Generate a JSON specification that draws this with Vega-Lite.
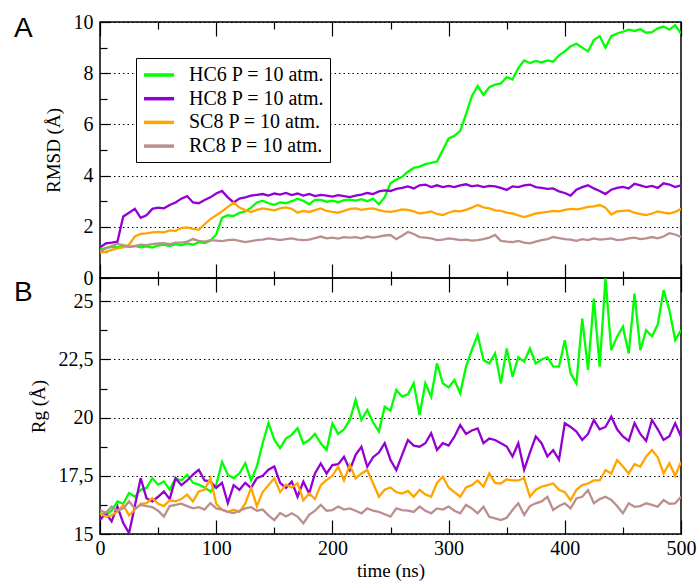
{
"$schema": "https://vega.github.io/schema/vega-lite/v6.json",
"autosize": "none",
"padding": {"left": 100, "top": 22, "right": 598, "bottom": 559},
"background": "white",
"config": {
 "view": {"stroke": "black", "strokeWidth": 1.5},
 "style": {"guide-label": {"font": "Liberation Serif", "fontSize": 20, "fill": "black"}, "guide-title": {"font": "Liberation Serif", "fontSize": 19, "fontWeight": "normal", "fill": "black"}},
 "axis": {"domain": false, "tickColor": "black", "tickWidth": 1.2, "labelFont": "Liberation Serif", "labelFontSize": 20, "labelColor": "black", "titleFont": "Liberation Serif", "titleFontSize": 19, "titleFontWeight": "normal", "titleColor": "black", "labelFlush": false, "labelOverlap": false}
},
"datasets": {
"rmsd": [
{"t":0,"HC6":1.10,"HC8":1.20,"SC8":1.00,"RC8":1.03},
{"t":5,"HC6":1.18,"HC8":1.35,"SC8":1.02,"RC8":1.15},
{"t":10,"HC6":1.22,"HC8":1.38,"SC8":1.10,"RC8":1.25},
{"t":15,"HC6":1.20,"HC8":1.42,"SC8":1.16,"RC8":1.33},
{"t":20,"HC6":1.26,"HC8":2.40,"SC8":1.20,"RC8":1.28},
{"t":25,"HC6":1.22,"HC8":2.55,"SC8":1.30,"RC8":1.22},
{"t":30,"HC6":1.25,"HC8":2.70,"SC8":1.62,"RC8":1.25},
{"t":35,"HC6":1.20,"HC8":2.35,"SC8":1.72,"RC8":1.30},
{"t":40,"HC6":1.24,"HC8":2.45,"SC8":1.74,"RC8":1.28},
{"t":45,"HC6":1.19,"HC8":2.70,"SC8":1.78,"RC8":1.32},
{"t":50,"HC6":1.27,"HC8":2.75,"SC8":1.80,"RC8":1.35},
{"t":55,"HC6":1.30,"HC8":2.72,"SC8":1.78,"RC8":1.36},
{"t":60,"HC6":1.25,"HC8":2.85,"SC8":1.86,"RC8":1.32},
{"t":65,"HC6":1.32,"HC8":2.95,"SC8":1.84,"RC8":1.38},
{"t":70,"HC6":1.28,"HC8":3.10,"SC8":1.95,"RC8":1.38},
{"t":75,"HC6":1.35,"HC8":3.20,"SC8":1.98,"RC8":1.42},
{"t":80,"HC6":1.30,"HC8":2.95,"SC8":1.92,"RC8":1.52},
{"t":85,"HC6":1.40,"HC8":2.92,"SC8":1.88,"RC8":1.45},
{"t":90,"HC6":1.36,"HC8":3.05,"SC8":2.10,"RC8":1.42},
{"t":95,"HC6":1.45,"HC8":3.15,"SC8":2.30,"RC8":1.48},
{"t":100,"HC6":1.70,"HC8":3.30,"SC8":2.45,"RC8":1.46},
{"t":105,"HC6":2.35,"HC8":3.40,"SC8":2.60,"RC8":1.44},
{"t":110,"HC6":2.45,"HC8":3.15,"SC8":2.78,"RC8":1.48},
{"t":115,"HC6":2.42,"HC8":2.95,"SC8":2.94,"RC8":1.50},
{"t":120,"HC6":2.55,"HC8":3.10,"SC8":2.75,"RC8":1.45},
{"t":125,"HC6":2.60,"HC8":3.15,"SC8":2.65,"RC8":1.40},
{"t":130,"HC6":2.75,"HC8":3.22,"SC8":2.58,"RC8":1.44},
{"t":135,"HC6":2.95,"HC8":3.25,"SC8":2.66,"RC8":1.48},
{"t":140,"HC6":3.02,"HC8":3.28,"SC8":2.72,"RC8":1.50},
{"t":145,"HC6":2.92,"HC8":3.22,"SC8":2.68,"RC8":1.55},
{"t":150,"HC6":2.86,"HC8":3.30,"SC8":2.64,"RC8":1.52},
{"t":155,"HC6":2.95,"HC8":3.26,"SC8":2.72,"RC8":1.48},
{"t":160,"HC6":2.92,"HC8":3.32,"SC8":2.76,"RC8":1.52},
{"t":165,"HC6":3.00,"HC8":3.24,"SC8":2.70,"RC8":1.55},
{"t":170,"HC6":3.10,"HC8":3.30,"SC8":2.55,"RC8":1.50},
{"t":175,"HC6":3.02,"HC8":3.22,"SC8":2.62,"RC8":1.48},
{"t":180,"HC6":2.88,"HC8":3.28,"SC8":2.58,"RC8":1.50},
{"t":185,"HC6":3.05,"HC8":3.20,"SC8":2.65,"RC8":1.56},
{"t":190,"HC6":3.05,"HC8":3.25,"SC8":2.72,"RC8":1.62},
{"t":195,"HC6":2.98,"HC8":3.22,"SC8":2.62,"RC8":1.55},
{"t":200,"HC6":3.02,"HC8":3.18,"SC8":2.58,"RC8":1.58},
{"t":205,"HC6":2.96,"HC8":3.24,"SC8":2.55,"RC8":1.54},
{"t":210,"HC6":3.04,"HC8":3.20,"SC8":2.62,"RC8":1.60},
{"t":215,"HC6":3.06,"HC8":3.16,"SC8":2.70,"RC8":1.58},
{"t":220,"HC6":3.02,"HC8":3.22,"SC8":2.72,"RC8":1.60},
{"t":225,"HC6":3.08,"HC8":3.26,"SC8":2.66,"RC8":1.55},
{"t":230,"HC6":3.00,"HC8":3.32,"SC8":2.70,"RC8":1.62},
{"t":235,"HC6":3.10,"HC8":3.28,"SC8":2.72,"RC8":1.58},
{"t":240,"HC6":2.88,"HC8":3.38,"SC8":2.65,"RC8":1.62},
{"t":245,"HC6":3.15,"HC8":3.42,"SC8":2.60,"RC8":1.66},
{"t":250,"HC6":3.70,"HC8":3.40,"SC8":2.58,"RC8":1.68},
{"t":255,"HC6":3.85,"HC8":3.48,"SC8":2.62,"RC8":1.52},
{"t":260,"HC6":3.95,"HC8":3.52,"SC8":2.68,"RC8":1.65},
{"t":265,"HC6":4.15,"HC8":3.58,"SC8":2.66,"RC8":1.80},
{"t":270,"HC6":4.30,"HC8":3.50,"SC8":2.60,"RC8":1.72},
{"t":275,"HC6":4.35,"HC8":3.62,"SC8":2.52,"RC8":1.60},
{"t":280,"HC6":4.45,"HC8":3.65,"SC8":2.55,"RC8":1.58},
{"t":285,"HC6":4.50,"HC8":3.55,"SC8":2.60,"RC8":1.55},
{"t":290,"HC6":4.55,"HC8":3.62,"SC8":2.50,"RC8":1.48},
{"t":295,"HC6":5.00,"HC8":3.55,"SC8":2.46,"RC8":1.50},
{"t":300,"HC6":5.45,"HC8":3.60,"SC8":2.55,"RC8":1.55},
{"t":305,"HC6":5.55,"HC8":3.55,"SC8":2.62,"RC8":1.52},
{"t":310,"HC6":5.75,"HC8":3.62,"SC8":2.60,"RC8":1.48},
{"t":315,"HC6":6.40,"HC8":3.66,"SC8":2.66,"RC8":1.50},
{"t":320,"HC6":7.10,"HC8":3.58,"SC8":2.75,"RC8":1.46},
{"t":325,"HC6":7.50,"HC8":3.62,"SC8":2.85,"RC8":1.48},
{"t":330,"HC6":7.15,"HC8":3.55,"SC8":2.76,"RC8":1.52},
{"t":335,"HC6":7.45,"HC8":3.60,"SC8":2.72,"RC8":1.58},
{"t":340,"HC6":7.55,"HC8":3.58,"SC8":2.64,"RC8":1.68},
{"t":345,"HC6":7.60,"HC8":3.52,"SC8":2.62,"RC8":1.45},
{"t":350,"HC6":7.85,"HC8":3.44,"SC8":2.55,"RC8":1.42},
{"t":355,"HC6":7.75,"HC8":3.58,"SC8":2.52,"RC8":1.40},
{"t":360,"HC6":8.20,"HC8":3.55,"SC8":2.45,"RC8":1.45},
{"t":365,"HC6":8.50,"HC8":3.62,"SC8":2.38,"RC8":1.38},
{"t":370,"HC6":8.40,"HC8":3.65,"SC8":2.45,"RC8":1.35},
{"t":375,"HC6":8.48,"HC8":3.55,"SC8":2.52,"RC8":1.42},
{"t":380,"HC6":8.42,"HC8":3.52,"SC8":2.55,"RC8":1.48},
{"t":385,"HC6":8.50,"HC8":3.48,"SC8":2.58,"RC8":1.52},
{"t":390,"HC6":8.45,"HC8":3.50,"SC8":2.62,"RC8":1.60},
{"t":395,"HC6":8.70,"HC8":3.38,"SC8":2.60,"RC8":1.56},
{"t":400,"HC6":8.85,"HC8":3.32,"SC8":2.66,"RC8":1.52},
{"t":405,"HC6":9.05,"HC8":3.22,"SC8":2.70,"RC8":1.50},
{"t":410,"HC6":9.15,"HC8":3.45,"SC8":2.68,"RC8":1.45},
{"t":415,"HC6":9.00,"HC8":3.55,"SC8":2.72,"RC8":1.52},
{"t":420,"HC6":8.85,"HC8":3.62,"SC8":2.78,"RC8":1.48},
{"t":425,"HC6":9.30,"HC8":3.50,"SC8":2.80,"RC8":1.55},
{"t":430,"HC6":9.45,"HC8":3.40,"SC8":2.85,"RC8":1.50},
{"t":435,"HC6":9.00,"HC8":3.28,"SC8":2.75,"RC8":1.52},
{"t":440,"HC6":9.45,"HC8":3.45,"SC8":2.48,"RC8":1.55},
{"t":445,"HC6":9.55,"HC8":3.52,"SC8":2.60,"RC8":1.48},
{"t":450,"HC6":9.62,"HC8":3.56,"SC8":2.62,"RC8":1.50},
{"t":455,"HC6":9.70,"HC8":3.50,"SC8":2.64,"RC8":1.55},
{"t":460,"HC6":9.65,"HC8":3.68,"SC8":2.55,"RC8":1.58},
{"t":465,"HC6":9.72,"HC8":3.62,"SC8":2.50,"RC8":1.52},
{"t":470,"HC6":9.58,"HC8":3.55,"SC8":2.46,"RC8":1.55},
{"t":475,"HC6":9.60,"HC8":3.60,"SC8":2.52,"RC8":1.60},
{"t":480,"HC6":9.75,"HC8":3.52,"SC8":2.60,"RC8":1.55},
{"t":485,"HC6":9.82,"HC8":3.70,"SC8":2.55,"RC8":1.62},
{"t":490,"HC6":9.70,"HC8":3.65,"SC8":2.52,"RC8":1.75},
{"t":495,"HC6":9.88,"HC8":3.55,"SC8":2.58,"RC8":1.70},
{"t":500,"HC6":9.55,"HC8":3.62,"SC8":2.70,"RC8":1.60}
],
"rg": [
{"t":0,"HC6":15.89,"HC8":15.60,"SC8":15.89,"RC8":16.03},
{"t":5,"HC6":15.82,"HC8":15.90,"SC8":15.75,"RC8":15.90},
{"t":10,"HC6":16.00,"HC8":15.54,"SC8":15.80,"RC8":16.18},
{"t":15,"HC6":16.40,"HC8":16.18,"SC8":15.96,"RC8":16.00},
{"t":20,"HC6":16.30,"HC8":15.47,"SC8":16.25,"RC8":16.10},
{"t":25,"HC6":16.76,"HC8":15.04,"SC8":15.80,"RC8":16.40},
{"t":30,"HC6":16.60,"HC8":16.20,"SC8":16.04,"RC8":16.10},
{"t":35,"HC6":16.90,"HC8":17.40,"SC8":16.30,"RC8":16.25},
{"t":40,"HC6":16.98,"HC8":16.54,"SC8":16.33,"RC8":16.20},
{"t":45,"HC6":17.40,"HC8":16.40,"SC8":16.54,"RC8":16.16},
{"t":50,"HC6":17.12,"HC8":16.60,"SC8":16.30,"RC8":16.00},
{"t":55,"HC6":17.26,"HC8":16.83,"SC8":16.20,"RC8":15.75},
{"t":60,"HC6":16.90,"HC8":16.50,"SC8":16.45,"RC8":16.20},
{"t":65,"HC6":17.40,"HC8":17.40,"SC8":16.40,"RC8":16.25},
{"t":70,"HC6":17.30,"HC8":17.10,"SC8":16.50,"RC8":16.30},
{"t":75,"HC6":17.55,"HC8":17.30,"SC8":16.69,"RC8":16.20},
{"t":80,"HC6":17.20,"HC8":17.55,"SC8":16.40,"RC8":16.10},
{"t":85,"HC6":17.12,"HC8":17.76,"SC8":16.83,"RC8":16.15},
{"t":90,"HC6":17.00,"HC8":17.30,"SC8":16.90,"RC8":16.05},
{"t":95,"HC6":16.83,"HC8":17.26,"SC8":17.40,"RC8":16.33},
{"t":100,"HC6":17.10,"HC8":16.98,"SC8":16.30,"RC8":16.10},
{"t":105,"HC6":18.10,"HC8":17.20,"SC8":16.04,"RC8":16.05},
{"t":110,"HC6":17.55,"HC8":16.33,"SC8":15.95,"RC8":15.95},
{"t":115,"HC6":17.40,"HC8":17.10,"SC8":16.04,"RC8":15.90},
{"t":120,"HC6":17.60,"HC8":16.90,"SC8":15.95,"RC8":16.00},
{"t":125,"HC6":18.04,"HC8":17.20,"SC8":16.30,"RC8":16.10},
{"t":130,"HC6":17.30,"HC8":16.98,"SC8":16.98,"RC8":16.15},
{"t":135,"HC6":17.90,"HC8":17.40,"SC8":16.20,"RC8":16.00},
{"t":140,"HC6":18.90,"HC8":17.50,"SC8":16.80,"RC8":16.05},
{"t":145,"HC6":19.77,"HC8":17.76,"SC8":17.10,"RC8":15.80},
{"t":150,"HC6":19.05,"HC8":17.90,"SC8":17.40,"RC8":15.60},
{"t":155,"HC6":18.69,"HC8":17.20,"SC8":16.80,"RC8":15.90},
{"t":160,"HC6":19.10,"HC8":16.98,"SC8":17.12,"RC8":15.75},
{"t":165,"HC6":19.26,"HC8":17.25,"SC8":17.00,"RC8":15.89},
{"t":170,"HC6":19.55,"HC8":16.60,"SC8":17.18,"RC8":15.75},
{"t":175,"HC6":18.89,"HC8":17.25,"SC8":16.45,"RC8":15.46},
{"t":180,"HC6":19.04,"HC8":16.74,"SC8":16.74,"RC8":15.82},
{"t":185,"HC6":19.30,"HC8":17.60,"SC8":16.50,"RC8":16.00},
{"t":190,"HC6":18.90,"HC8":18.03,"SC8":17.10,"RC8":16.25},
{"t":195,"HC6":18.61,"HC8":17.60,"SC8":17.32,"RC8":16.00},
{"t":200,"HC6":19.75,"HC8":17.96,"SC8":17.50,"RC8":16.03},
{"t":205,"HC6":19.30,"HC8":18.00,"SC8":17.89,"RC8":16.18},
{"t":210,"HC6":19.50,"HC8":18.32,"SC8":17.30,"RC8":16.05},
{"t":215,"HC6":19.90,"HC8":17.75,"SC8":17.96,"RC8":16.10},
{"t":220,"HC6":20.76,"HC8":18.40,"SC8":17.39,"RC8":16.00},
{"t":225,"HC6":19.90,"HC8":18.75,"SC8":17.60,"RC8":15.89},
{"t":230,"HC6":20.33,"HC8":17.89,"SC8":17.75,"RC8":16.10},
{"t":235,"HC6":19.80,"HC8":18.30,"SC8":17.18,"RC8":16.00},
{"t":240,"HC6":19.40,"HC8":18.50,"SC8":16.60,"RC8":15.95},
{"t":245,"HC6":20.47,"HC8":18.90,"SC8":16.90,"RC8":15.85},
{"t":250,"HC6":20.30,"HC8":18.18,"SC8":17.00,"RC8":15.75},
{"t":255,"HC6":21.19,"HC8":17.75,"SC8":16.80,"RC8":16.10},
{"t":260,"HC6":20.90,"HC8":18.40,"SC8":16.74,"RC8":16.03},
{"t":265,"HC6":21.00,"HC8":19.04,"SC8":16.85,"RC8":16.00},
{"t":270,"HC6":21.48,"HC8":18.80,"SC8":16.60,"RC8":15.95},
{"t":275,"HC6":20.11,"HC8":18.75,"SC8":16.90,"RC8":16.18},
{"t":280,"HC6":21.48,"HC8":18.90,"SC8":16.70,"RC8":16.00},
{"t":285,"HC6":20.90,"HC8":19.33,"SC8":16.60,"RC8":15.89},
{"t":290,"HC6":22.33,"HC8":18.61,"SC8":17.20,"RC8":16.10},
{"t":295,"HC6":21.48,"HC8":18.90,"SC8":17.46,"RC8":16.05},
{"t":300,"HC6":21.30,"HC8":18.80,"SC8":17.00,"RC8":16.18},
{"t":305,"HC6":21.62,"HC8":19.18,"SC8":16.80,"RC8":16.00},
{"t":310,"HC6":21.05,"HC8":19.68,"SC8":16.60,"RC8":15.89},
{"t":315,"HC6":22.19,"HC8":19.30,"SC8":17.00,"RC8":16.25},
{"t":320,"HC6":22.91,"HC8":19.45,"SC8":17.10,"RC8":16.10},
{"t":325,"HC6":23.55,"HC8":19.54,"SC8":17.30,"RC8":15.89},
{"t":330,"HC6":22.48,"HC8":18.90,"SC8":17.03,"RC8":16.17},
{"t":335,"HC6":22.33,"HC8":19.10,"SC8":17.60,"RC8":15.74},
{"t":340,"HC6":22.76,"HC8":19.04,"SC8":17.20,"RC8":15.67},
{"t":345,"HC6":21.47,"HC8":18.90,"SC8":17.17,"RC8":15.60},
{"t":350,"HC6":22.97,"HC8":18.76,"SC8":17.35,"RC8":15.70},
{"t":355,"HC6":21.76,"HC8":18.33,"SC8":17.30,"RC8":16.03},
{"t":360,"HC6":22.60,"HC8":18.90,"SC8":17.30,"RC8":16.32},
{"t":365,"HC6":22.40,"HC8":17.76,"SC8":17.40,"RC8":15.82},
{"t":370,"HC6":22.97,"HC8":18.50,"SC8":16.60,"RC8":16.20},
{"t":375,"HC6":22.33,"HC8":19.19,"SC8":16.90,"RC8":16.32},
{"t":380,"HC6":22.50,"HC8":18.90,"SC8":17.03,"RC8":16.40},
{"t":385,"HC6":22.60,"HC8":18.33,"SC8":17.10,"RC8":16.60},
{"t":390,"HC6":22.20,"HC8":18.60,"SC8":17.17,"RC8":16.03},
{"t":395,"HC6":22.19,"HC8":18.19,"SC8":16.90,"RC8":16.20},
{"t":400,"HC6":23.33,"HC8":19.76,"SC8":16.80,"RC8":16.32},
{"t":405,"HC6":21.90,"HC8":19.60,"SC8":16.45,"RC8":16.10},
{"t":410,"HC6":21.47,"HC8":19.40,"SC8":16.90,"RC8":16.53},
{"t":415,"HC6":24.26,"HC8":19.04,"SC8":17.10,"RC8":16.60},
{"t":420,"HC6":22.05,"HC8":19.30,"SC8":17.17,"RC8":16.89},
{"t":425,"HC6":25.12,"HC8":19.90,"SC8":17.30,"RC8":16.32},
{"t":430,"HC6":22.19,"HC8":19.50,"SC8":17.30,"RC8":16.50},
{"t":435,"HC6":25.98,"HC8":19.60,"SC8":17.75,"RC8":16.60},
{"t":440,"HC6":22.90,"HC8":20.05,"SC8":17.60,"RC8":16.46},
{"t":445,"HC6":23.48,"HC8":19.50,"SC8":18.18,"RC8":16.20},
{"t":450,"HC6":23.91,"HC8":19.19,"SC8":17.90,"RC8":15.89},
{"t":455,"HC6":22.76,"HC8":19.00,"SC8":17.60,"RC8":16.32},
{"t":460,"HC6":25.33,"HC8":19.76,"SC8":18.00,"RC8":16.17},
{"t":465,"HC6":22.90,"HC8":19.30,"SC8":17.90,"RC8":16.20},
{"t":470,"HC6":23.76,"HC8":19.00,"SC8":18.33,"RC8":16.32},
{"t":475,"HC6":23.50,"HC8":19.90,"SC8":18.61,"RC8":16.25},
{"t":480,"HC6":24.00,"HC8":19.50,"SC8":18.30,"RC8":16.17},
{"t":485,"HC6":25.48,"HC8":19.04,"SC8":17.60,"RC8":16.46},
{"t":490,"HC6":24.62,"HC8":19.20,"SC8":18.04,"RC8":16.30},
{"t":495,"HC6":23.33,"HC8":19.76,"SC8":17.50,"RC8":16.32},
{"t":500,"HC6":23.76,"HC8":19.19,"SC8":18.10,"RC8":16.60}
]
},
"spacing": 0,
"bounds": "flush",
"resolve": {"scale": {"color": "independent"}, "legend": {"color": "independent"}},
"vconcat": [
{
 "width": 581, "height": 256,
 "resolve": {"axis": {"x": "independent", "y": "independent"}},
 "layer": [
  {
   "data": {"name": "rmsd"},
   "transform": [{"fold": ["HC6", "HC8", "SC8", "RC8"], "as": ["series", "value"]}],
   "mark": {"type": "line", "strokeWidth": 2.3, "clip": true},
   "encoding": {
    "x": {"field": "t", "type": "quantitative", "scale": {"domain": [0, 500], "nice": false}, "axis": {"orient": "bottom", "values": [0, 100, 200, 300, 400, 500], "labels": false, "tickSize": -14, "title": null, "grid": false}},
    "y": {"field": "value", "type": "quantitative", "scale": {"domain": [0, 10], "nice": false}, "axis": {"orient": "left", "values": [0, 2, 4, 6, 8, 10], "tickSize": -10, "labelPadding": 17, "labelFont": "Liberation Serif", "labelFontSize": 20, "title": "RMSD (Å)", "titleFont": "Liberation Serif", "titleFontSize": 19, "titleFontWeight": "normal", "titlePadding": 10, "grid": true, "gridDash": [1.5, 3], "gridColor": "black", "gridWidth": 1}},
    "color": {"field": "series", "type": "nominal", "scale": {"domain": ["HC6", "HC8", "SC8", "RC8"], "range": ["#00ff00", "#9400d3", "#ffa500", "#bc8f8f"]},
     "legend": {"orient": "none", "legendX": 36, "legendY": 36, "title": null, "symbolType": "M-1.5,0H1.5", "symbolSize": 400, "symbolStrokeWidth": 3.5, "symbolOffset": 6, "labelFont": "Liberation Serif", "labelFontSize": 20, "labelColor": "black", "labelExpr": "datum.label + ' P = 10 atm.'", "strokeColor": "black", "fillColor": "white", "padding": 5, "rowPadding": 1.7, "labelOffset": 18, "labelLimit": 300}}
   }
  },
  {
   "data": {"values": [{"label": "A"}]},
   "mark": {"type": "text", "font": "Liberation Sans", "fontSize": 28, "align": "center", "baseline": "alphabetic", "color": "black", "clip": false},
   "encoding": {
    "x": {"datum": -66, "type": "quantitative", "scale": {"domain": [0, 500], "nice": false}, "axis": {"orient": "bottom", "values": [50, 150, 250, 350, 450], "labels": false, "tickSize": -7, "title": null, "grid": false}},
    "y": {"datum": 9.41, "type": "quantitative", "scale": {"domain": [0, 10], "nice": false}, "axis": {"orient": "left", "values": [1, 3, 5, 7, 9], "labels": false, "tickSize": -7, "title": null, "grid": false}},
    "text": {"field": "label"}
   }
  },
  {
   "data": {"values": [{"label": ""}]},
   "mark": {"type": "text"},
   "encoding": {
    "x": {"datum": 250, "type": "quantitative", "scale": {"domain": [0, 500], "nice": false}, "axis": {"orient": "top", "values": [0, 100, 200, 300, 400, 500], "labels": false, "tickSize": -14, "title": null, "grid": false}},
    "y": {"datum": 5, "type": "quantitative", "scale": {"domain": [0, 10], "nice": false}, "axis": null},
    "text": {"field": "label"}
   }
  },
  {
   "data": {"values": [{"label": ""}]},
   "mark": {"type": "text"},
   "encoding": {
    "x": {"datum": 250, "type": "quantitative", "scale": {"domain": [0, 500], "nice": false}, "axis": {"orient": "top", "values": [50, 150, 250, 350, 450], "labels": false, "tickSize": -7, "title": null, "grid": false}},
    "y": {"datum": 5, "type": "quantitative", "scale": {"domain": [0, 10], "nice": false}, "axis": null},
    "text": {"field": "label"}
   }
  }
 ]
},
{
 "width": 581, "height": 256,
 "resolve": {"axis": {"x": "independent", "y": "independent"}},
 "layer": [
  {
   "data": {"name": "rg"},
   "transform": [{"fold": ["HC6", "HC8", "SC8", "RC8"], "as": ["series", "value"]}],
   "mark": {"type": "line", "strokeWidth": 2.3, "clip": true},
   "encoding": {
    "x": {"field": "t", "type": "quantitative", "scale": {"domain": [0, 500], "nice": false}, "axis": {"orient": "bottom", "values": [0, 100, 200, 300, 400, 500], "tickSize": -14, "labelPadding": 18, "labelFont": "Liberation Serif", "labelFontSize": 20, "title": "time (ns)", "titleFont": "Liberation Serif", "titleFontSize": 19, "titleFontWeight": "normal", "titlePadding": 3, "grid": false}},
    "y": {"field": "value", "type": "quantitative", "scale": {"domain": [15, 26], "nice": false}, "axis": {"orient": "left", "values": [15, 17.5, 20, 22.5, 25], "format": ".1~f", "labelExpr": "replace(datum.label, '.', ',')", "tickSize": -10, "labelPadding": 17, "labelFont": "Liberation Serif", "labelFontSize": 20, "title": "Rg (Å)", "titleFont": "Liberation Serif", "titleFontSize": 19, "titleFontWeight": "normal", "titlePadding": 10, "grid": true, "gridDash": [1.5, 3], "gridColor": "black", "gridWidth": 1}},
    "color": {"field": "series", "type": "nominal", "scale": {"domain": ["HC6", "HC8", "SC8", "RC8"], "range": ["#00ff00", "#9400d3", "#ffa500", "#bc8f8f"]}, "legend": null}
   }
  },
  {
   "data": {"values": [{"label": "B"}]},
   "mark": {"type": "text", "font": "Liberation Sans", "fontSize": 28, "align": "center", "baseline": "alphabetic", "color": "black", "clip": false},
   "encoding": {
    "x": {"datum": -66, "type": "quantitative", "scale": {"domain": [0, 500], "nice": false}, "axis": {"orient": "bottom", "values": [50, 150, 250, 350, 450], "labels": false, "tickSize": -7, "title": null, "grid": false}},
    "y": {"datum": 25.01, "type": "quantitative", "scale": {"domain": [15, 26], "nice": false}, "axis": {"orient": "left", "values": [16.25, 18.75, 21.25, 23.75], "labels": false, "tickSize": -7, "title": null, "grid": false}},
    "text": {"field": "label"}
   }
  },
  {
   "data": {"values": [{"label": ""}]},
   "mark": {"type": "text"},
   "encoding": {
    "x": {"datum": 250, "type": "quantitative", "scale": {"domain": [0, 500], "nice": false}, "axis": {"orient": "top", "values": [0, 100, 200, 300, 400, 500], "labels": false, "tickSize": -14, "title": null, "grid": false}},
    "y": {"datum": 20, "type": "quantitative", "scale": {"domain": [15, 26], "nice": false}, "axis": null},
    "text": {"field": "label"}
   }
  },
  {
   "data": {"values": [{"label": ""}]},
   "mark": {"type": "text"},
   "encoding": {
    "x": {"datum": 250, "type": "quantitative", "scale": {"domain": [0, 500], "nice": false}, "axis": {"orient": "top", "values": [50, 150, 250, 350, 450], "labels": false, "tickSize": -7, "title": null, "grid": false}},
    "y": {"datum": 20, "type": "quantitative", "scale": {"domain": [15, 26], "nice": false}, "axis": null},
    "text": {"field": "label"}
   }
  }
 ]
}
]
}
